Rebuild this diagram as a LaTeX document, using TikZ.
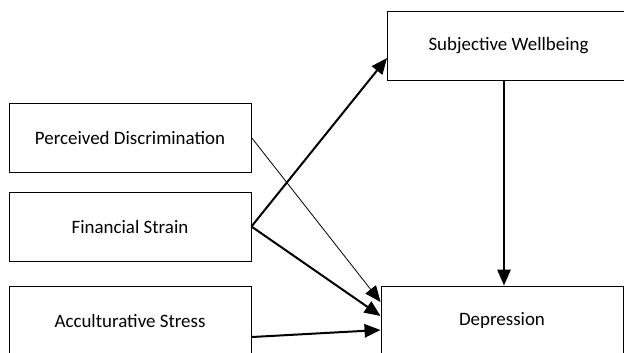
\documentclass[tikz,border=0pt]{standalone}
\usepackage{fontspec}
\setmainfont{Carlito}
\usetikzlibrary{arrows.meta}
\tikzset{
  varbox/.style={draw, line width=0.7pt, minimum width=181.5pt, minimum height=51.75pt, font=\fontsize{14.2}{17}\selectfont},
  path/.style={line width=1.5pt, -{Triangle[length=12pt,width=10pt]}},
  thinpath/.style={line width=0.6pt, -{Triangle[length=12pt,width=10pt]}}
}
\begin{document}
\begin{tikzpicture}[x=0.75pt,y=-0.75pt]
\useasboundingbox (0,0) rectangle (624,353);
% Predictors
\node[varbox] (disc) at (130,137.5) {Perceived Discrimination};
\node[varbox] (fin) at (130,226.5) {Financial Strain};
\node[varbox] (accul) at (130,320.5) {Acculturative Stress};

% Mediator and outcome
\node[varbox] (swb) at (508.5,45.5) {Subjective Wellbeing};
\node[varbox] (dep) at (502,320.5) {Depression};

% Paths
\draw[path] (fin.east) -- ([yshift=-9.4pt]swb.west);
\draw[thinpath] (disc.east) -- ([yshift=13.9pt]dep.west);
\draw[path] (fin.east) -- ([yshift=3.4pt]dep.west);
\draw[path] ([yshift=-12.4pt]accul.east) -- ([yshift=-7.1pt]dep.west);
\draw[path] ([xshift=1.5pt]dep.north |- swb.south) -- ([xshift=1.5pt]dep.north);
\end{tikzpicture}
\end{document}
